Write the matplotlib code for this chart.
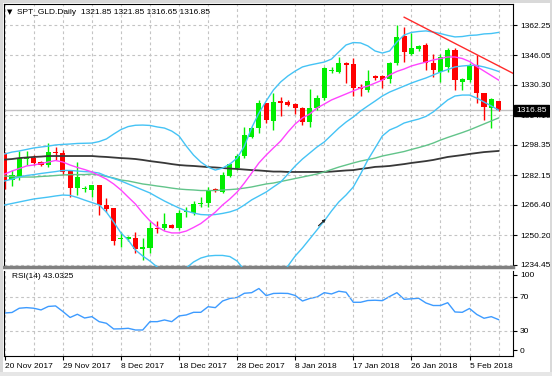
import matplotlib.pyplot as plt
import matplotlib.transforms as mtransforms
from matplotlib.patches import Rectangle
import numpy as np

W, H = 552, 376

# daily candles, SPT_GLD (bar 0 = 20 Nov 2017)
opens = [
    1294.0, 1279.6, 1281.4, 1290.6, 1291.5, 1289.4, 1287.6, 1294.7, 1294.2, 1284.6,
    1275.2, 1274.6, 1274.2, 1276.9, 1266.3, 1264.5, 1247.9, 1248.4, 1248.8, 1242.9,
    1243.2, 1254.2, 1253.9, 1255.6, 1254.2, 1262.5, 1262.2, 1266.6, 1267.2, 1274.8,
    1273.4, 1281.8, 1286.0, 1292.4, 1302.7, 1307.2, 1320.5, 1311.2, 1321.7, 1321.0,
    1319.9, 1317.8, 1310.7, 1317.8, 1323.2, 1337.6, 1337.4, 1342.2, 1341.4, 1329.0,
    1327.6, 1335.0, 1335.0, 1333.3, 1341.8, 1356.4, 1346.6, 1349.3, 1351.6, 1341.8,
    1337.3, 1340.0, 1348.9, 1332.0, 1332.9, 1340.9, 1325.8, 1317.8, 1321.85]
highs = [
    1294.5, 1284.9, 1295.2, 1295.2, 1292.9, 1289.9, 1299.5, 1297.4, 1295.6, 1284.9,
    1289.4, 1276.4, 1277.2, 1277.2, 1269.8, 1264.8, 1252.0, 1250.0, 1251.7, 1248.5,
    1257.4, 1258.0, 1262.2, 1256.0, 1263.6, 1265.4, 1268.6, 1270.7, 1276.0, 1275.2,
    1284.0, 1288.5, 1293.5, 1308.0, 1308.0, 1322.3, 1320.8, 1326.2, 1323.7, 1322.5,
    1320.5, 1318.7, 1327.9, 1324.9, 1340.0, 1339.7, 1345.4, 1342.5, 1344.5, 1330.6,
    1338.3, 1335.6, 1335.6, 1342.5, 1362.25, 1361.4, 1357.8, 1351.7, 1352.8, 1347.0,
    1347.0, 1349.8, 1349.8, 1334.2, 1341.8, 1346.3, 1325.8, 1323.2, 1321.85]
lows = [
    1274.8, 1276.4, 1279.6, 1287.6, 1287.6, 1287.1, 1286.7, 1290.3, 1282.3, 1270.7,
    1271.6, 1273.4, 1270.7, 1260.9, 1262.7, 1244.9, 1244.0, 1247.0, 1240.5, 1237.0,
    1240.5, 1251.2, 1253.0, 1253.8, 1253.0, 1259.8, 1261.0, 1265.4, 1265.4, 1273.3,
    1272.8, 1281.4, 1285.0, 1291.5, 1301.8, 1304.5, 1309.8, 1306.3, 1313.7, 1319.0,
    1314.8, 1308.9, 1308.0, 1316.9, 1322.3, 1336.6, 1336.5, 1331.5, 1324.4, 1324.4,
    1326.7, 1332.9, 1328.5, 1331.5, 1340.9, 1342.7, 1346.3, 1348.6, 1338.5, 1334.7,
    1332.0, 1337.4, 1327.6, 1327.6, 1332.0, 1320.5, 1311.6, 1307.2, 1316.65]
closes = [
    1279.6, 1282.3, 1291.2, 1291.2, 1288.8, 1287.6, 1294.7, 1293.8, 1284.0, 1275.2,
    1281.4, 1274.9, 1276.9, 1266.3, 1264.0, 1247.2, 1248.8, 1249.0, 1242.9, 1243.8,
    1254.2, 1253.4, 1256.2, 1254.2, 1262.2, 1263.3, 1266.8, 1267.5, 1274.3, 1273.9,
    1282.3, 1288.2, 1292.4, 1303.6, 1307.2, 1320.5, 1311.6, 1321.4, 1320.5, 1319.8,
    1318.2, 1310.7, 1317.8, 1323.2, 1339.2, 1338.5, 1341.8, 1340.9, 1328.5, 1327.9,
    1332.4, 1333.8, 1332.9, 1342.2, 1356.0, 1347.7, 1349.8, 1351.1, 1341.8, 1338.3,
    1345.4, 1348.9, 1332.9, 1333.4, 1340.9, 1325.8, 1318.7, 1322.6, 1316.85]

# indicator lines
bb_upper = [
    1293.5, 1294.5, 1295.1, 1295.9, 1296.7, 1297.2, 1297.7, 1298.3, 1298.6, 1298.8,
    1299.1, 1299.2, 1299.3, 1300.1, 1301.5, 1304.1, 1306.5, 1308.1, 1308.8, 1308.9,
    1308.7, 1307.9, 1307.3, 1305.7, 1303.1, 1297.7, 1292.9, 1289.2, 1286.5, 1284.9,
    1286.0, 1288.1, 1291.3, 1297.7, 1307.4, 1315.3, 1321.7, 1327.6, 1331.9, 1335.1,
    1337.7, 1339.9, 1340.9, 1341.7, 1342.5, 1344.1, 1347.9, 1351.6, 1352.9, 1352.7,
    1351.1, 1348.4, 1347.3, 1348.4, 1353.2, 1356.9, 1358.3, 1358.8, 1359.1, 1358.5,
    1357.7, 1356.7, 1355.9, 1356.1, 1356.7, 1356.9, 1357.5, 1357.7, 1358.3]
bb_mid = [
    1279.1, 1280.1, 1281.2, 1282.0, 1282.5, 1283.1, 1283.6, 1284.1, 1284.7, 1284.7,
    1284.4, 1284.1, 1283.9, 1283.3, 1281.7, 1280.4, 1279.1, 1277.5, 1275.9, 1274.3,
    1272.7, 1270.5, 1268.4, 1266.5, 1264.7, 1263.1, 1262.0, 1261.2, 1261.0, 1261.2,
    1261.8, 1262.6, 1263.9, 1266.3, 1269.0, 1271.1, 1273.2, 1275.9, 1278.5, 1282.8,
    1287.1, 1290.8, 1294.0, 1297.2, 1299.9, 1303.6, 1307.3, 1310.5, 1313.2, 1316.4,
    1319.1, 1321.7, 1324.4, 1326.5, 1328.1, 1329.7, 1331.3, 1332.7, 1334.0, 1335.6,
    1337.2, 1338.5, 1339.9, 1340.4, 1340.7, 1340.7, 1339.9, 1338.8, 1337.5]
bb_lower = [
    1266.3, 1267.1, 1267.9, 1268.7, 1269.5, 1270.0, 1270.5, 1271.1, 1271.6, 1271.4,
    1270.3, 1268.9, 1267.6, 1266.3, 1262.5, 1257.2, 1251.4, 1247.6, 1242.3, 1239.1,
    1236.4, 1233.2, 1231.1, 1229.5, 1230.6, 1232.7, 1235.9, 1238.0, 1239.1, 1239.4,
    1239.4, 1238.8, 1236.4, 1231.6, 1227.4, 1224.2, 1222.6, 1224.2, 1228.4, 1233.8,
    1239.1, 1243.4, 1248.2, 1253.0, 1257.8, 1263.1, 1267.9, 1271.6, 1275.9, 1282.8,
    1290.3, 1296.7, 1303.1, 1306.3, 1307.9, 1310.0, 1311.1, 1312.1, 1313.5, 1315.9,
    1319.1, 1322.3, 1324.4, 1324.9, 1324.9, 1323.3, 1321.2, 1319.1, 1316.9]
ma_fast = [
    1282.8, 1284.4, 1285.7, 1287.1, 1287.6, 1288.4, 1289.2, 1290.0, 1289.2, 1287.6,
    1286.3, 1285.2, 1283.9, 1282.0, 1280.1, 1277.5, 1274.3, 1270.5, 1266.8, 1262.0,
    1257.8, 1254.6, 1252.4, 1251.4, 1251.4, 1252.4, 1254.3, 1256.4, 1259.4, 1262.5,
    1266.3, 1269.5, 1273.2, 1278.0, 1283.3, 1288.7, 1292.9, 1296.7, 1300.4, 1305.2,
    1309.5, 1312.7, 1314.8, 1318.0, 1320.1, 1322.3, 1323.9, 1325.5, 1327.1, 1328.7,
    1329.7, 1331.3, 1332.9, 1335.6, 1337.5, 1338.8, 1340.4, 1341.5, 1342.5, 1343.6,
    1344.4, 1345.2, 1345.2, 1344.4, 1342.8, 1340.1, 1337.7, 1335.3, 1332.9]
ma_mid = [
    1281.7, 1281.5, 1281.2, 1281.2, 1281.2, 1281.5, 1281.7, 1282.0, 1282.3, 1282.5,
    1282.5, 1282.5, 1282.8, 1282.3, 1281.5, 1280.7, 1279.6, 1279.1, 1278.3, 1277.5,
    1277.0, 1276.4, 1275.9, 1275.3, 1274.8, 1274.5, 1274.3, 1274.0, 1274.0, 1274.0,
    1274.3, 1274.5, 1274.8, 1275.3, 1275.9, 1276.7, 1277.5, 1278.0, 1278.8, 1279.6,
    1280.4, 1281.2, 1282.0, 1282.8, 1283.9, 1285.2, 1286.5, 1287.6, 1288.7, 1289.7,
    1290.5, 1291.3, 1292.4, 1293.2, 1294.0, 1294.8, 1295.9, 1296.9, 1298.0, 1299.3,
    1300.9, 1302.3, 1303.6, 1304.9, 1306.3, 1307.9, 1309.5, 1311.1, 1312.7]
ma_slow = [
    1290.5, 1290.8, 1291.3, 1291.6, 1291.9, 1292.1, 1292.4, 1292.4, 1292.4, 1292.4,
    1292.4, 1292.4, 1292.4, 1292.1, 1291.9, 1291.6, 1291.3, 1291.1, 1290.8, 1290.3,
    1289.7, 1289.2, 1288.7, 1288.1, 1287.6, 1287.3, 1287.1, 1286.8, 1286.5, 1286.3,
    1286.0, 1285.7, 1285.5, 1285.2, 1284.9, 1284.7, 1284.4, 1284.1, 1284.1, 1283.9,
    1283.9, 1283.9, 1283.9, 1283.9, 1283.9, 1284.1, 1284.4, 1284.7, 1284.9, 1285.5,
    1286.0, 1286.6, 1286.8, 1287.1, 1287.6, 1288.1, 1288.7, 1289.2, 1289.7, 1290.3,
    1291.1, 1291.9, 1292.4, 1292.9, 1293.5, 1294.0, 1294.5, 1294.8, 1295.1]
rsi_values = [
    50.8, 51.4, 56.4, 57.1, 56.4, 54.4, 58.5, 59.1, 52.6, 45.5,
    49.3, 44.9, 46.5, 40.6, 38.7, 32.0, 32.2, 32.8, 30.8, 30.8,
    40.6, 40.6, 42.6, 40.6, 47.3, 48.5, 51.6, 51.6, 58.2, 57.1,
    64.9, 67.9, 69.1, 74.0, 74.7, 79.6, 71.2, 73.8, 74.0, 73.8,
    71.4, 64.9, 67.9, 69.6, 74.7, 73.2, 76.4, 75.2, 63.4, 63.4,
    65.5, 65.8, 65.3, 70.2, 74.7, 66.9, 67.5, 68.1, 62.6, 59.6,
    59.6, 62.9, 52.0, 51.6, 56.1, 49.1, 44.6, 46.5, 43.0]

date_labels = ["20 Nov 2017", "29 Nov 2017", "8 Dec 2017", "18 Dec 2017",
               "28 Dec 2017", "8 Jan 2018", "17 Jan 2018", "26 Jan 2018",
               "5 Feb 2018"]
price_ticks = [1362.25, 1346.05, 1330.30, 1314.10, 1298.35,
               1282.15, 1266.40, 1250.20, 1234.45]
rsi_ticks = [95.5, 70, 30, 7]
rsi_tick_labels = ["100", "70", "30", "0"]
last_price = 1316.85
trend_bars = [55, 75]
trend_prices = [1366.4, 1326.5]
arrow_from = (43.2, 1255.2)
arrow_to = (44.2, 1258.8)

GRID = dict(color="#c4c4c4", lw=0.8, ls=(0, (2.5, 2.5)))


def px_rect(left, top, right, bottom):
    return [left / W, 1 - bottom / H, (right - left) / W, (bottom - top) / H]


plt.rcParams["font.family"] = ["Liberation Sans", "DejaVu Sans"]
plt.rcParams["font.size"] = 6.0

fig = plt.figure(figsize=(W / 100, H / 100), dpi=100)
fig.patch.set_facecolor("white")

ax = fig.add_axes(px_rect(4, 4, 513, 267))
ax_rsi = fig.add_axes(px_rect(4, 271, 513, 356), sharex=ax)

x = np.arange(len(closes))
o, h, l, c = (np.array(v) for v in (opens, highs, lows, closes))
colors = np.where(c >= o, "#00ee00", "#ff0000")

# indicators
ax.plot(x, ma_slow, color="#383838", lw=1.3, zorder=4)
ax.plot(x, ma_mid, color="#62c48a", lw=1.0, zorder=4)
for band in (bb_upper, bb_mid, bb_lower):
    ax.plot(x, band, color="#45c3f5", lw=1.0, zorder=4)
ax.plot(x, ma_fast, color="#ff44ff", lw=1.0, zorder=4)

# candles
ax.vlines(x, l, h, colors=colors, lw=1.0, zorder=3)
ax.bar(x, np.maximum(np.abs(c - o), 0.6), 0.7, bottom=np.minimum(o, c),
       color=colors, lw=0, zorder=3)

ax.plot(trend_bars, trend_prices, color="#ff2a2a", lw=1.0, zorder=5)
ax.annotate("", xy=arrow_to, xytext=arrow_from,
            arrowprops=dict(arrowstyle="-|>", color="#222222", lw=0.8,
                            mutation_scale=4, shrinkA=0, shrinkB=0), zorder=5)
ax.axhline(last_price, color="#c0c0c0", lw=1.0, zorder=2)

ax.set_xlim(-0.1, 69.99)
ax.set_ylim(1233.23, 1373.45)
ax.set_xticks(range(0, 65, 8))
ax.set_xticks(range(0, 69, 4), minor=True)
ax.grid(True, which="both", axis="x", **GRID)
ax.grid(True, which="major", axis="y", **GRID)
ax.tick_params(axis="x", which="both", length=0, labelbottom=False)
ax.yaxis.tick_right()
ax.set_yticks(price_ticks)
ax.set_yticklabels([f"{v:.2f}" for v in price_ticks])
ax.tick_params(axis="y", length=3, width=0.8, pad=2, colors="black")
for side in ("top", "left", "right"):
    ax.spines[side].set_color("black")
    ax.spines[side].set_linewidth(0.8)
ax.spines["bottom"].set_color("#808080")
ax.spines["bottom"].set_linewidth(2.5)

trans = mtransforms.blended_transform_factory(ax.transAxes, ax.transData)
ax.text(1.0 + 3 / 509, last_price, f"{last_price:.2f}", transform=trans,
        color="white", va="center", ha="left", clip_on=False, zorder=10,
        bbox=dict(boxstyle="square,pad=0.25", fc="black", ec="black"))

# RSI pane
ax_rsi.plot(x, rsi_values, color="#3d9bff", lw=1.0)
ax_rsi.axhline(70, **GRID)
ax_rsi.axhline(30, **GRID)
ax_rsi.grid(True, which="both", axis="x", **GRID)
ax_rsi.set_ylim(0.2, 100.2)
ax_rsi.set_xticks(range(0, 65, 8))
ax_rsi.set_xticklabels(date_labels, ha="left")
ax_rsi.tick_params(axis="x", which="major", length=3, width=0.8, pad=2)
ax_rsi.tick_params(axis="x", which="minor", length=0)
ax_rsi.yaxis.tick_right()
ax_rsi.set_yticks(rsi_ticks)
ax_rsi.set_yticklabels(rsi_tick_labels)
ax_rsi.tick_params(axis="y", length=3, width=0.8, pad=2)
ax_rsi.spines["top"].set_visible(False)
for side in ("left", "right", "bottom"):
    ax_rsi.spines[side].set_linewidth(0.8)
ax_rsi.text(8 / 509, 0.935, "RSI(14) 43.0325", transform=ax_rsi.transAxes,
            va="center", ha="left")

# window chrome
fig.patches.extend([
    Rectangle((0, 1 - 3 / H), 1, 3 / H, transform=fig.transFigure,
              fc="#d9d9d9", ec="none", zorder=0),
    Rectangle((0, 0), 3 / W, 1, transform=fig.transFigure,
              fc="#d9d9d9", ec="none", zorder=0),
    Rectangle((550 / W, 0), 2 / W, 1, transform=fig.transFigure,
              fc="#d9d9d9", ec="none", zorder=0),
    Rectangle((0, 0), 1, 4 / H, transform=fig.transFigure,
              fc="#e6e6e6", ec="none", zorder=0),
])

fig.text(10 / W, 1 - 12 / H, "\u25bc", fontsize=5, va="center", ha="center",
         family="DejaVu Sans")
fig.text(17 / W, 1 - 12 / H, "SPT_GLD.Daily  1321.85 1321.85 1316.65 1316.85",
         va="center", ha="left")

fig.savefig("out.png", dpi=100)
